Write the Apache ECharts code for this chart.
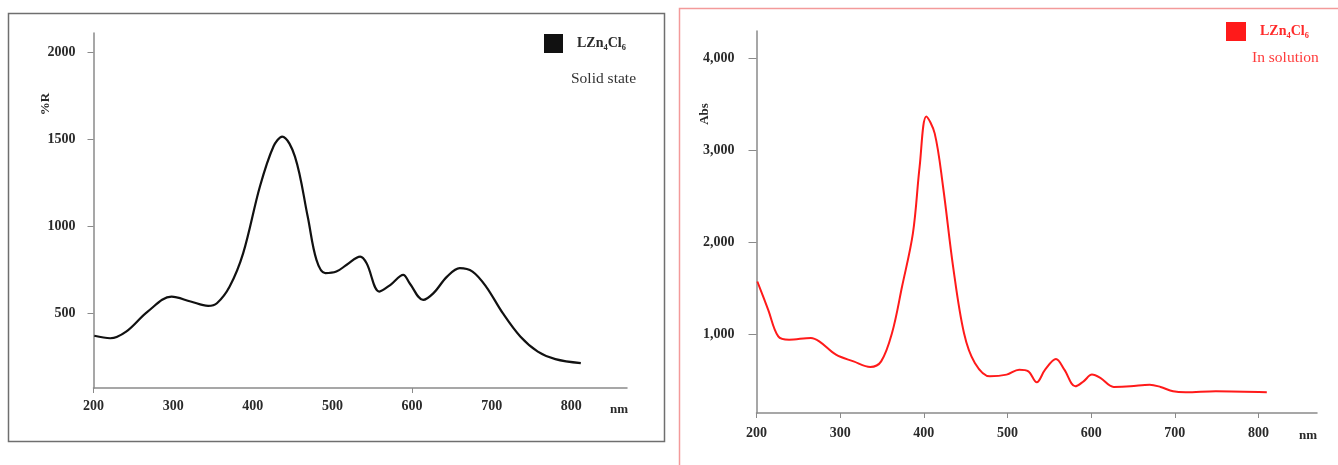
<!DOCTYPE html>
<html>
<head>
<meta charset="utf-8">
<title>LZn4Cl6</title>
<script src="https://cdn.jsdelivr.net/npm/echarts@6/dist/echarts.min.js"></script>
<style>
  html, body { margin: 0; padding: 0; background: #fff; }
  #chart { width: 1338px; height: 465px; }
</style>
</head>
<body>
<div id="chart"></div>
<script>
// solid state reflectance (%R)
let solidNm = [201, 221, 241, 268, 298, 322, 344, 355, 371, 388, 409, 426, 437, 453, 469, 480, 491, 505, 518, 535, 543, 559, 573, 589, 597, 614, 627, 644, 660, 676, 693, 714, 736, 758, 780, 812]
let solidR = [370, 356, 394, 509, 595, 567, 542, 557, 653, 845, 1228, 1458, 1515, 1400, 1055, 806, 730, 739, 778, 825, 787, 624, 663, 720, 672, 576, 615, 710, 759, 739, 653, 500, 366, 279, 236, 213]
// solution absorbance (Abs)
let solutionNm = [201, 214, 226, 239, 265, 275, 295, 316, 336, 349, 362, 374, 387, 395, 403, 413, 423, 435, 448, 461, 479, 499, 514, 525, 535, 545, 558, 568, 581, 591, 601, 611, 627, 647, 670, 683, 698, 713, 749, 810]
let solutionAbs = [1572, 1264, 974, 938, 957, 920, 775, 702, 641, 702, 1011, 1517, 2098, 2822, 3370, 3185, 2604, 1735, 1011, 685, 539, 558, 612, 594, 474, 612, 728, 612, 430, 485, 558, 522, 424, 430, 449, 424, 376, 365, 376, 365]
// tick labels
let nmTicks = [200, 300, 400, 500, 600, 700, 800]
let nmTicksLeft = [200, 600]
let rTicks = [500, 1000, 1500, 2000]
let absTicks = [1000, 2000, 3000, 4000]
let compound = 'LZn₄Cl₆'

let serif = 'Liberation Serif, Times New Roman, serif'
let tickFont = { fontFamily: serif, fontSize: 14, fontWeight: 'bold', color: '#2a2a2a' }

let myChart = echarts.init(document.getElementById('chart'))
myChart.setOption({
  animation: false,
  graphic: [
    {
      type: 'rect',
      shape: { x: 8.5, y: 13.5, width: 656, height: 428 },
      style: { fill: 'none', stroke: '#6f6f6f', lineWidth: 1.5 },
      z: -1
    },
    {
      type: 'rect',
      shape: { x: 679.5, y: 8.5, width: 700, height: 480 },
      style: { fill: 'none', stroke: '#f39a9a', lineWidth: 1.5 },
      z: -1
    },
    {
      type: 'text',
      x: 46,
      y: 104,
      rotation: Math.PI / 2,
      style: { text: '%R', font: 'bold 13px ' + serif, fill: '#2a2a2a', textAlign: 'center', textVerticalAlign: 'middle' }
    },
    {
      type: 'text',
      x: 705,
      y: 114,
      rotation: Math.PI / 2,
      style: { text: 'Abs', font: 'bold 13px ' + serif, fill: '#2a2a2a', textAlign: 'center', textVerticalAlign: 'middle' }
    }
  ],
  title: [
    {
      text: 'Solid state',
      left: 571,
      top: 71,
      padding: 0,
      textStyle: { fontFamily: serif, fontSize: 15.5, fontWeight: 'normal', color: '#333' }
    },
    {
      text: 'In solution',
      left: 1252,
      top: 50,
      padding: 0,
      textStyle: { fontFamily: serif, fontSize: 15.5, fontWeight: 'normal', color: '#ff3b3b' }
    }
  ],
  legend: [
    {
      data: ['solid'],
      left: 544,
      top: 34,
      padding: 0,
      icon: 'rect',
      itemWidth: 19,
      itemHeight: 19,
      formatter: function () { return compound },
      textStyle: { fontFamily: serif, fontSize: 14, fontWeight: 'bold', color: '#2a2a2a', padding: [0, 0, 0, 9] }
    },
    {
      data: ['solution'],
      left: 1226,
      top: 22,
      padding: 0,
      icon: 'rect',
      itemWidth: 20,
      itemHeight: 19,
      formatter: function () { return compound },
      textStyle: { fontFamily: serif, fontSize: 14, fontWeight: 'bold', color: '#ff2a2a', padding: [0, 0, 0, 9] }
    }
  ],
  grid: [
    { left: 93.5, right: 711, top: 33, bottom: 77 },
    { left: 756.5, right: 21, top: 31, bottom: 52 }
  ],
  xAxis: [
    {
      type: 'value',
      gridIndex: 0,
      min: 200,
      max: 870,
      name: 'nm',
      nameLocation: 'end',
      nameGap: -8,
      nameTextStyle: { fontFamily: serif, fontSize: 13, fontWeight: 'bold', color: '#2a2a2a', align: 'center', verticalAlign: 'top', padding: [15, 0, 0, 0] },
      splitLine: { show: false },
      axisLine: { lineStyle: { color: '#8a8a8a', width: 1.5 } },
      axisTick: { length: 5, customValues: nmTicksLeft, lineStyle: { color: '#8a8a8a' } },
      axisLabel: Object.assign({ margin: 11, customValues: nmTicks }, tickFont)
    },
    {
      type: 'value',
      gridIndex: 1,
      min: 200,
      max: 870,
      name: 'nm',
      nameLocation: 'end',
      nameGap: -9,
      nameTextStyle: { fontFamily: serif, fontSize: 13, fontWeight: 'bold', color: '#2a2a2a', align: 'center', verticalAlign: 'top', padding: [16, 0, 0, 0] },
      splitLine: { show: false },
      axisLine: { lineStyle: { color: '#8a8a8a', width: 1.5 } },
      axisTick: { length: 5, customValues: nmTicks, lineStyle: { color: '#8a8a8a' } },
      axisLabel: Object.assign({ margin: 13, customValues: nmTicks }, tickFont)
    }
  ],
  yAxis: [
    {
      type: 'value',
      gridIndex: 0,
      min: 70,
      max: 2110,
      splitLine: { show: false },
      axisLine: { show: true, lineStyle: { color: '#8a8a8a', width: 1.5 } },
      axisTick: { show: true, length: 6, customValues: rTicks, lineStyle: { color: '#8a8a8a' } },
      axisLabel: Object.assign({
        margin: 18,
        customValues: rTicks,
        formatter: function (v) { return String(v) }
      }, tickFont)
    },
    {
      type: 'value',
      gridIndex: 1,
      min: 140,
      max: 4300,
      splitLine: { show: false },
      axisLine: { show: true, lineStyle: { color: '#8a8a8a', width: 1.5 } },
      axisTick: { show: true, length: 8, customValues: absTicks, lineStyle: { color: '#8a8a8a' } },
      axisLabel: Object.assign({
        margin: 22,
        customValues: absTicks,
        formatter: function (v) { return v.toLocaleString('en-US') }
      }, tickFont)
    }
  ],
  series: [
    {
      name: 'solid',
      type: 'line',
      xAxisIndex: 0,
      yAxisIndex: 0,
      smooth: 0.35,
      showSymbol: false,
      data: solidNm.map(function (x, i) { return [x, solidR[i]] }),
      itemStyle: { color: '#111' },
      lineStyle: { color: '#111', width: 2.2 }
    },
    {
      name: 'solution',
      type: 'line',
      xAxisIndex: 1,
      yAxisIndex: 1,
      smooth: 0.35,
      showSymbol: false,
      data: solutionNm.map(function (x, i) { return [x, solutionAbs[i]] }),
      itemStyle: { color: '#ff1a1a' },
      lineStyle: { color: '#ff1a1a', width: 2 }
    }
  ]
})
</script>
</body>
</html>
